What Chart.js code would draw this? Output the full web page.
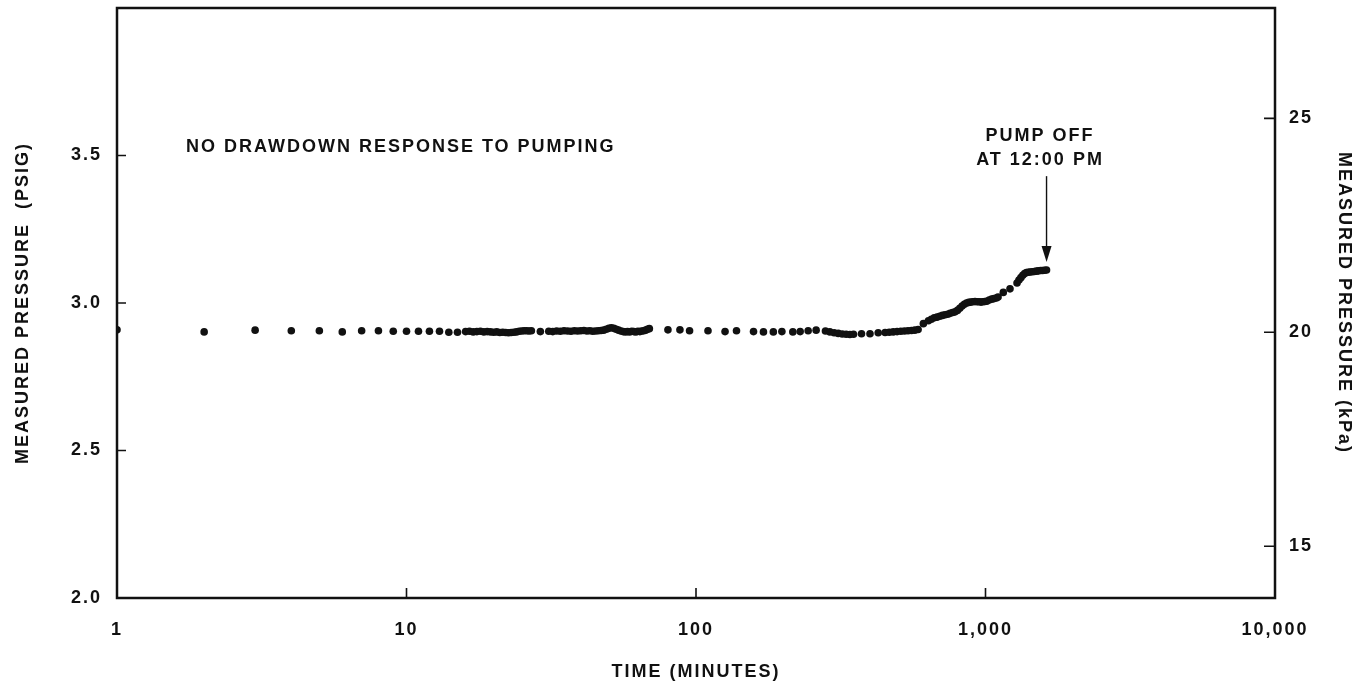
<!DOCTYPE html>
<html>
<head>
<meta charset="utf-8">
<title>Measured pressure vs time</title>
<script src="https://cdn.jsdelivr.net/npm/chart.js@4.4.0/dist/chart.umd.min.js"></script>
<style>
	html, body { margin: 0; padding: 0; background: #fff; }
	canvas { display: block; }
</style>
</head>
<body>
<canvas id="chPressure" width="1372" height="685"></canvas>
<script>
// Readings during the first hour of pumping (minutes, psig)
var minutesFirstHour = [1, 2, 3, 4, 5, 6, 7, 8, 9, 10, 11, 12, 13, 14, 15,
	16, 16.5, 17, 17.5, 18, 18.5, 19, 19.5, 20, 20.5, 21, 21.5, 22, 22.5, 23, 23.5, 24, 24.5, 25, 25.5, 26, 26.5, 27,
	29,
	31, 32, 33, 34, 35, 36, 37, 38, 39, 40, 41, 42, 43, 44, 45, 46, 47, 48, 49, 50,
	51, 52, 53, 54, 55, 56, 57, 58, 59, 60, 61, 62, 63, 64, 65, 66, 67, 68, 69];
var psigFirstHour = [2.909, 2.902, 2.908, 2.906, 2.906, 2.902, 2.906, 2.906, 2.904, 2.904, 2.904, 2.904, 2.904, 2.901, 2.901,
	2.903, 2.904, 2.902, 2.903, 2.904, 2.902, 2.903, 2.902, 2.901, 2.902, 2.900, 2.901, 2.900, 2.899, 2.900, 2.901, 2.902, 2.904, 2.905, 2.906, 2.906, 2.905, 2.906,
	2.903,
	2.904, 2.903, 2.905, 2.904, 2.906, 2.905, 2.904, 2.906, 2.905, 2.906, 2.907, 2.905, 2.906, 2.904, 2.905, 2.906, 2.907, 2.908, 2.911, 2.914,
	2.916, 2.914, 2.911, 2.908, 2.905, 2.903, 2.902, 2.903, 2.902, 2.904, 2.903, 2.902, 2.904, 2.903, 2.905, 2.906, 2.908, 2.911, 2.913];

// Flat stretch, no drawdown
var minutesFlat = [80, 88, 95, 110, 126, 138, 158, 171, 185, 198, 216, 229, 244, 260,
	280, 290, 300, 310, 320, 330, 340, 350, 373, 399, 426,
	450, 465, 480, 495, 510, 525, 540, 555, 570, 585];
var psigFlat = [2.909, 2.909, 2.906, 2.906, 2.903, 2.906, 2.903, 2.902, 2.902, 2.903, 2.902, 2.903, 2.906, 2.908,
	2.905, 2.902, 2.899, 2.897, 2.895, 2.894, 2.893, 2.894, 2.896, 2.896, 2.899,
	2.900, 2.901, 2.902, 2.903, 2.904, 2.905, 2.906, 2.907, 2.908, 2.910];

// Rise until the pump was switched off
var minutesRise = [610, 635, 650, 665, 680, 695, 710, 725, 740, 755, 770, 785,
	800, 815, 830, 845, 860, 875, 890, 905, 920, 935, 950, 965, 980, 995, 1010,
	1030, 1050, 1070, 1090, 1105, 1152, 1215, 1285, 1305, 1325, 1345,
	1365, 1385, 1405, 1425, 1450, 1475, 1500, 1525, 1550, 1575, 1600, 1625];
var psigRise = [2.930, 2.940, 2.945, 2.950, 2.952, 2.955, 2.958, 2.960, 2.962, 2.965, 2.968, 2.970,
	2.975, 2.982, 2.990, 2.996, 3.000, 3.002, 3.003, 3.004, 3.005, 3.004, 3.004, 3.003, 3.004, 3.005, 3.006,
	3.010, 3.013, 3.015, 3.017, 3.020, 3.036, 3.048, 3.068, 3.078, 3.086, 3.094,
	3.100, 3.103, 3.104, 3.105, 3.106, 3.107, 3.108, 3.109, 3.110, 3.110, 3.111, 3.112];

// Axis ticks
var timeTicks = [1, 10, 100, 1000, 10000];
var psigTicks = [2.0, 2.5, 3.0, 3.5];
var kpaTicks = [15, 20, 25];

var PSI_TO_KPA = 6.894757;
var INK = '#111';
var TRACKING = '2px';
var FONT = { family: '"Liberation Sans", Arial, Helvetica, sans-serif', size: 18, weight: 'bold', lineHeight: 1.2 };

function toPoints(times, values) {
	return times.map(function (t, i) { return { x: t, y: values[i] }; });
}

function fixedTicks(list) {
	return function (scale) {
		scale.ticks = list.map(function (v) { return { value: v }; });
	};
}

// no extra room for half labels at the ends of the axes
function noEdgePadding(scale) {
	scale.paddingTop = 0;
	scale.paddingBottom = 0;
	scale.paddingLeft = 0;
	scale.paddingRight = 0;
}

// wide tracking like the lettering on the original sheet
var textSpacing = {
	id: 'textSpacing',
	beforeUpdate: function (chart) { chart.ctx.letterSpacing = TRACKING; },
	beforeDraw: function (chart) { chart.ctx.letterSpacing = TRACKING; }
};

// box round the plot plus short inward tick marks
var frame = {
	id: 'frame',
	beforeDatasetsDraw: function (chart) {
		var ctx = chart.ctx, a = chart.chartArea;
		var sx = chart.scales.x, sy = chart.scales.y, sk = chart.scales.y2;
		ctx.save();
		ctx.strokeStyle = INK;
		ctx.lineWidth = 2.5;
		ctx.strokeRect(a.left, a.top, a.right - a.left, a.bottom - a.top);
		ctx.lineWidth = 1.6;
		ctx.beginPath();
		sx.ticks.forEach(function (t) {
			if (t.value <= sx.min || t.value >= sx.max) return;
			var px = sx.getPixelForValue(t.value);
			ctx.moveTo(px, a.bottom); ctx.lineTo(px, a.bottom - 10);
		});
		sy.ticks.forEach(function (t) {
			if (t.value <= sy.min || t.value >= sy.max) return;
			var py = sy.getPixelForValue(t.value);
			ctx.moveTo(a.left, py); ctx.lineTo(a.left + 9, py);
		});
		sk.ticks.forEach(function (t) {
			var py = sk.getPixelForValue(t.value);
			ctx.moveTo(a.right, py); ctx.lineTo(a.right - 11, py);
		});
		ctx.stroke();
		ctx.restore();
	}
};

// notes and the pump-off arrow
var notes = {
	id: 'notes',
	afterDraw: function (chart) {
		var ctx = chart.ctx;
		var sx = chart.scales.x, sy = chart.scales.y;
		ctx.save();
		ctx.letterSpacing = TRACKING;
		ctx.fillStyle = INK;
		ctx.strokeStyle = INK;
		ctx.font = 'bold 18px "Liberation Sans", Arial, sans-serif';
		ctx.textBaseline = 'middle';
		ctx.textAlign = 'left';
		ctx.fillText('NO DRAWDOWN RESPONSE TO PUMPING', sx.getPixelForValue(1.73), sy.getPixelForValue(3.53));
		ctx.textAlign = 'center';
		var cx = sx.getPixelForValue(1543);
		ctx.fillText('PUMP OFF', cx, sy.getPixelForValue(3.565));
		ctx.fillText('AT 12:00 PM', cx, sy.getPixelForValue(3.486));

		var lastT = minutesRise[minutesRise.length - 1];
		var lastP = psigRise[psigRise.length - 1];
		var ax = sx.getPixelForValue(lastT);
		var tip = sy.getPixelForValue(lastP) - 8;
		var top = sy.getPixelForValue(3.43);
		ctx.lineWidth = 1.4;
		ctx.beginPath();
		ctx.moveTo(ax, top);
		ctx.lineTo(ax, tip - 12);
		ctx.stroke();
		ctx.beginPath();
		ctx.moveTo(ax - 5, tip - 16);
		ctx.lineTo(ax + 5, tip - 16);
		ctx.lineTo(ax, tip);
		ctx.closePath();
		ctx.fill();
		ctx.restore();
	}
};

new Chart(document.getElementById('chPressure'), {
	type: 'scatter',
	data: {
		datasets: [{
			data: toPoints(minutesFirstHour, psigFirstHour)
				.concat(toPoints(minutesFlat, psigFlat))
				.concat(toPoints(minutesRise, psigRise)),
			pointRadius: 3.8,
			pointHoverRadius: 3.8,
			pointBackgroundColor: INK,
			pointBorderWidth: 0,
			showLine: false
		}]
	},
	options: {
		responsive: false,
		devicePixelRatio: 1,
		animation: false,
		layout: { padding: { top: 8, left: 0, right: 0, bottom: 0 } },
		plugins: { legend: { display: false }, tooltip: { enabled: false } },
		scales: {
			x: {
				type: 'logarithmic',
				position: 'bottom',
				min: 1,
				max: 10000,
				afterBuildTicks: fixedTicks(timeTicks),
				afterFit: function (s) { s.height = 87; noEdgePadding(s); },
				grid: { drawOnChartArea: false, drawTicks: false },
				border: { display: false },
				ticks: {
					color: INK,
					font: FONT,
					padding: 21,
					maxRotation: 0,
					autoSkip: false,
					callback: function (v) { return Number(v).toLocaleString('en-US'); }
				},
				title: { display: true, text: 'TIME (MINUTES)', color: INK, font: FONT, padding: { top: 0, bottom: 2 } }
			},
			y: {
				position: 'left',
				min: 2,
				max: 4,
				afterBuildTicks: fixedTicks(psigTicks),
				afterFit: function (s) { s.width = 117; noEdgePadding(s); },
				grid: { drawOnChartArea: false, drawTicks: false },
				border: { display: false },
				ticks: {
					color: INK,
					font: FONT,
					padding: 15,
					callback: function (v) { return Number(v).toFixed(1); }
				},
				title: { display: true, text: 'MEASURED PRESSURE  (PSIG)', color: INK, font: FONT, padding: { top: 12, bottom: 0 } }
			},
			y2: {
				position: 'right',
				min: 2 * PSI_TO_KPA,
				max: 4 * PSI_TO_KPA,
				afterBuildTicks: fixedTicks(kpaTicks),
				afterFit: function (s) { s.width = 97; noEdgePadding(s); },
				grid: { drawOnChartArea: false, drawTicks: false },
				border: { display: false },
				ticks: {
					color: INK,
					font: FONT,
					padding: 14,
					callback: function (v) { return String(v); }
				},
				title: { display: true, text: 'MEASURED PRESSURE (kPa)', color: INK, font: FONT, padding: { top: 17, bottom: 0 } }
			}
		}
	},
	plugins: [textSpacing, frame, notes]
});
</script>
</body>
</html>
